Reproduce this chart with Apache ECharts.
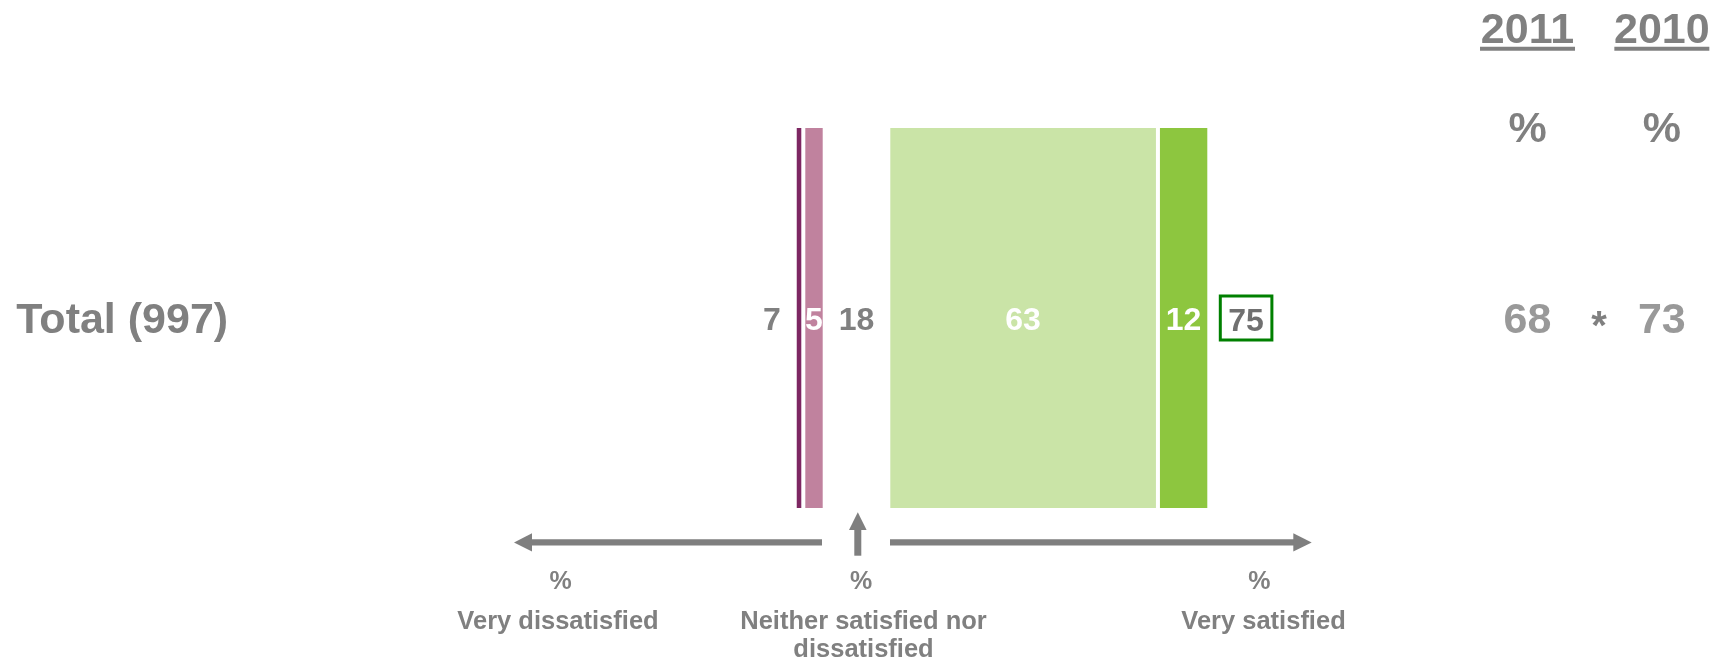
<!DOCTYPE html>
<html>
<head>
<meta charset="utf-8">
<script src="https://cdn.jsdelivr.net/npm/echarts@6/dist/echarts.min.js"></script>
<style>
  html, body { margin: 0; padding: 0; background: #ffffff; }
  #chart { width: 1729px; height: 662px; }
</style>
</head>
<body>
<div id="chart"></div>
<script>
// ---- data ----
const categories = ['Total (997)'];
const veryDissatisfied = [2];
const fairlyDissatisfied = [5];
const neitherNor = [18];
const fairlySatisfied = [63];
const verySatisfied = [12];
const netDissatisfied = [7];
const netSatisfied = [75];
const years = ['2011', '2010'];
const trendSatisfied = [68, 73];
const significanceMark = ['*'];
const scaleLabels = ['Very dissatisfied', 'Neither satisfied nor\ndissatisfied', 'Very satisfied'];

// ---- styles ----
const FONT = '"Liberation Sans", Arial, sans-serif';
const GREY = '#808080';
const C_VD = '#7d2762';
const C_FD = '#c0829e';
const C_FS = '#cae4a7';
const C_VS = '#8dc63f';

const chart = echarts.init(document.getElementById('chart'), null, { renderer: 'canvas' });

const barLabel = (color) => ({
  show: true, position: 'inside', color: color, fontSize: 32, fontWeight: 'bold', fontFamily: FONT, offset: [0, 3.5]
});
const barItem = (color) => ({ color: color, borderColor: '#ffffff', borderWidth: 2 });
const hiddenCat = (gi) => ({ type: 'category', gridIndex: gi, data: categories, show: false });
const txt = (x, y, text, size, extra) => ({
  type: 'text', x: x, y: y,
  style: Object.assign({ text: text, fill: GREY, fontSize: size, fontWeight: 'bold', fontFamily: FONT,
    align: 'center', verticalAlign: 'middle', textAlign: 'center', textVerticalAlign: 'middle' }, extra || {})
});

const BAR_TOP = 126, BAR_H = 384;

const option = {
  animation: false,
  backgroundColor: '#ffffff',
  grid: [
    // dissatisfied side (grows leftwards)
    { left: 781.9, width: 42.8, top: BAR_TOP, height: BAR_H },
    // neither column
    { left: 824.7, width: 63.6, top: BAR_TOP, height: BAR_H },
    // satisfied side
    { left: 888.3, width: 428, top: BAR_TOP, height: BAR_H },
    // trend columns
    { left: 1460.35, width: 276.6, top: 217.7, height: 200.6 }
  ],
  xAxis: [
    { type: 'value', gridIndex: 0, min: 0, max: 10, inverse: true, show: false },
    { type: 'value', gridIndex: 1, min: 0, max: (v) => v.max, show: false },
    { type: 'value', gridIndex: 2, min: 0, max: 100, show: false },
    {
      type: 'category', gridIndex: 3, data: years, position: 'top',
      axisLine: { show: false }, axisTick: { show: false }, splitLine: { show: false },
      axisLabel: {
        interval: 0, margin: 8,
        formatter: (v) => '{y|' + v + '}\n{u| }\n{p|%}',
        rich: {
          y: { fontSize: 43, fontWeight: 'bold', color: GREY, fontFamily: FONT, lineHeight: 30, align: 'center' },
          u: { width: 95, height: 4, fontSize: 4, lineHeight: 5.6, backgroundColor: GREY, align: 'center' },
          p: { fontSize: 43, fontWeight: 'bold', color: GREY, fontFamily: FONT, lineHeight: 158.2, align: 'center' }
        }
      }
    }
  ],
  yAxis: [
    {
      type: 'category', gridIndex: 0, data: categories,
      axisLine: { show: false }, axisTick: { show: false }, splitLine: { show: false },
      axisLabel: {
        align: 'left', margin: 765.6,
        formatter: (v) => '{s| }\n{t|' + v + '}',
        rich: {
          s: { fontSize: 4, lineHeight: 6, align: 'left' },
          t: { fontSize: 43, fontWeight: 'bold', color: GREY, fontFamily: FONT, lineHeight: 43, align: 'left' }
        }
      }
    },
    hiddenCat(1), hiddenCat(2), hiddenCat(3)
  ],
  series: [
    {
      name: 'Fairly dissatisfied', type: 'bar', stack: 'dis', barCategoryGap: '0%', xAxisIndex: 0, yAxisIndex: 0,
      data: fairlyDissatisfied, itemStyle: barItem(C_FD), label: barLabel('#ffffff')
    },
    {
      name: 'Very dissatisfied', type: 'bar', stack: 'dis', barCategoryGap: '0%', xAxisIndex: 0, yAxisIndex: 0,
      data: veryDissatisfied, itemStyle: barItem(C_VD),
      label: {
        show: true, position: 'left', distance: 14, offset: [0, 3.5], color: GREY, fontSize: 32, fontWeight: 'bold', fontFamily: FONT,
        formatter: (p) => String(netDissatisfied[p.dataIndex])
      }
    },
    {
      name: 'Neither satisfied nor dissatisfied', type: 'bar', barCategoryGap: '0%', xAxisIndex: 1, yAxisIndex: 1,
      data: neitherNor, itemStyle: { color: 'transparent' }, label: barLabel(GREY)
    },
    {
      name: 'Fairly satisfied', type: 'bar', stack: 'sat', barCategoryGap: '0%', xAxisIndex: 2, yAxisIndex: 2,
      data: fairlySatisfied, itemStyle: barItem(C_FS), label: barLabel('#ffffff')
    },
    {
      name: 'Very satisfied', type: 'bar', stack: 'sat', barCategoryGap: '0%', xAxisIndex: 2, yAxisIndex: 2,
      data: verySatisfied, itemStyle: barItem(C_VS), label: barLabel('#ffffff')
    },
    {
      name: 'Net satisfied', type: 'bar', stack: 'sat', barCategoryGap: '0%', xAxisIndex: 2, yAxisIndex: 2,
      data: netSatisfied.map(() => 0), itemStyle: { color: 'transparent' },
      label: {
        show: true, position: 'right', distance: 11,
        borderColor: '#008000', borderWidth: 3, padding: [0, 8, 0, 8],
        formatter: (p) => '{s| }\n{n|' + netSatisfied[p.dataIndex] + '}',
        rich: {
          s: { fontSize: 4, lineHeight: 8 },
          n: { color: '#707070', fontSize: 32, fontWeight: 'bold', fontFamily: FONT, lineHeight: 36 }
        }
      }
    },
    {
      name: 'Satisfied trend', type: 'scatter', xAxisIndex: 3, yAxisIndex: 3,
      symbolSize: 0,
      data: years.map((y, i) => [y, categories[0], trendSatisfied[i]]),
      encode: { x: 0, y: 1 },
      label: {
        show: true, position: 'inside', offset: [0, 3], color: GREY, fontSize: 43, fontWeight: 'bold', fontFamily: FONT,
        formatter: (p) => String(p.value[2])
      }
    }
  ],
  graphic: [
    // significance marker between the two years
    txt(1599, 328, significanceMark[0], 40),
    // arrows
    { type: 'rect', shape: { x: 530, y: 539.3, width: 292, height: 6.3 }, style: { fill: '#7f7f7f' } },
    { type: 'polygon', shape: { points: [[514, 542.4], [532, 533.3], [532, 551.4]] }, style: { fill: '#7f7f7f' } },
    { type: 'rect', shape: { x: 854.3, y: 528, width: 7, height: 27.7 }, style: { fill: '#7f7f7f' } },
    { type: 'polygon', shape: { points: [[857.8, 512.3], [849, 530], [866.6, 530]] }, style: { fill: '#7f7f7f' } },
    { type: 'rect', shape: { x: 890, y: 539.3, width: 405, height: 6.3 }, style: { fill: '#7f7f7f' } },
    { type: 'polygon', shape: { points: [[1311.7, 542.4], [1293.3, 533.3], [1293.3, 551.4]] }, style: { fill: '#7f7f7f' } },
    // scale captions
    txt(560.6, 582, '%', 25),
    txt(861.2, 582, '%', 25),
    txt(1259.3, 582, '%', 25),
    txt(558, 621.5, scaleLabels[0], 25.5),
    txt(863.5, 635.5, scaleLabels[1], 25.5, { lineHeight: 28 }),
    txt(1263.5, 621.5, scaleLabels[2], 25.5)
  ]
};

chart.setOption(option);
</script>
</body>
</html>
